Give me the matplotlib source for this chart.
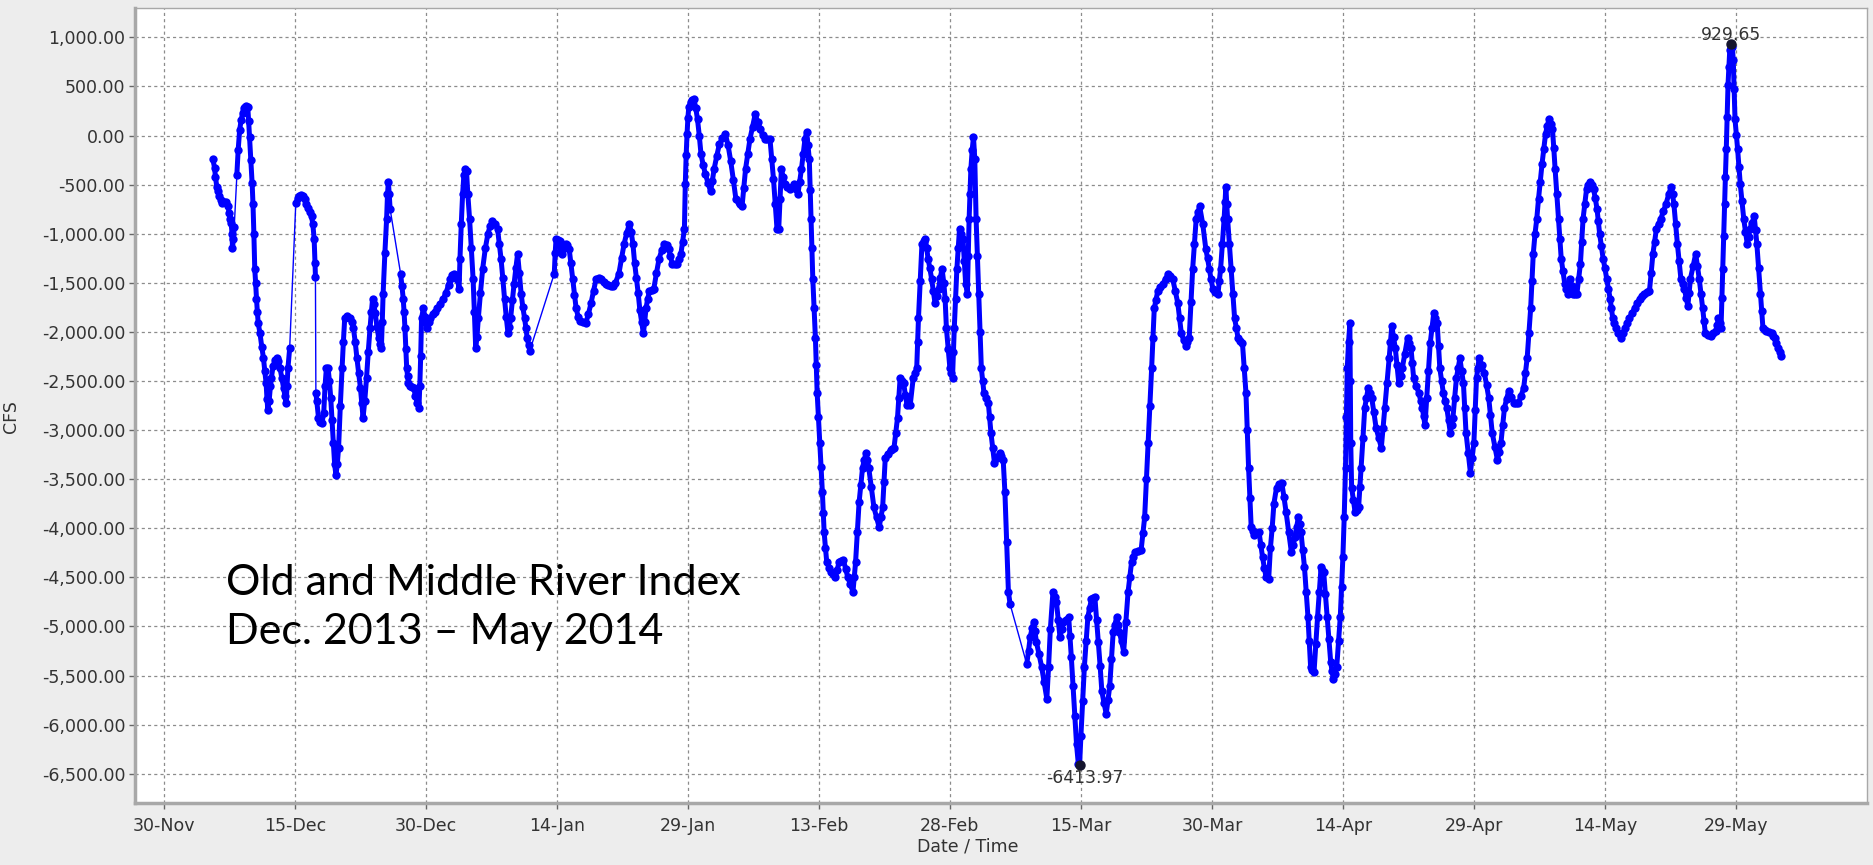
import numpy as np
import pandas as pd
import matplotlib
matplotlib.use("Agg")
import matplotlib.pyplot as plt
from matplotlib.dates import DateFormatter
from matplotlib.ticker import FuncFormatter

plt.rcParams["font.family"] = ["DejaVu Sans"]

start = pd.Timestamp("2013-11-30")

# Old and Middle River index, days after 30-Nov-2013 and flow in CFS.
# Each run is an unbroken stretch of the record; the record has gaps between runs.
run1_days = [5.6, 5.8, 5.9, 6.05, 6.2, 6.35, 6.5, 6.7, 6.9, 7.15,
             7.3, 7.5, 7.6, 7.7, 7.8, 7.85, 7.95, 8.05]
run1_cfs = [-240, -330, -420, -520, -570, -620, -660, -690, -680, -673,
            -720, -790, -850, -893, -1000, -1150, -1050, -930]

run2_days = [8.35, 8.5, 8.67, 8.85, 9.0, 9.15, 9.3, 9.45, 9.6, 9.7,
             9.8, 9.95, 10.1, 10.2, 10.3, 10.4, 10.5, 10.6, 10.7, 10.8,
             11.0, 11.2, 11.4, 11.55, 11.7, 11.8, 11.9, 12.05, 12.2, 12.3,
             12.5, 12.7, 12.9, 13.1, 13.3, 13.5, 13.7, 13.85, 14.0, 14.1,
             14.2, 14.4]
run2_cfs = [-400, -150, 57, 160, 227, 280, 295, 300, 290, 150,
            -11, -250, -486, -700, -1000, -1356, -1500, -1660, -1800, -1913,
            -2014, -2150, -2267, -2400, -2520, -2680, -2800, -2700, -2550, -2470,
            -2350, -2290, -2267, -2300, -2370, -2470, -2570, -2650, -2720, -2550,
            -2370, -2166]

run3_days = [15.1, 15.3, 15.5, 15.7, 15.9, 16.1, 16.3, 16.5, 16.7, 16.9,
             17.05, 17.2, 17.3, 17.35]
run3_cfs = [-690, -640, -615, -605, -620, -650, -700, -740, -780, -824,
            -900, -1052, -1300, -1437]

run4_days = [17.4, 17.5, 17.7, 17.9, 18.1, 18.3, 18.45, 18.6, 18.8, 18.95,
             19.1, 19.25, 19.4, 19.55, 19.7, 19.85, 20.0, 20.2, 20.4, 20.55,
             20.7, 21.0, 21.3, 21.5, 21.7, 21.9, 22.1, 22.3, 22.5, 22.65,
             22.8, 23.0, 23.2, 23.4, 23.6, 23.75, 23.9, 24.05, 24.2, 24.4,
             24.6, 24.75, 24.9, 25.0, 25.1, 25.3, 25.5, 25.6, 25.7, 25.8,
             25.9]
run4_cfs = [-2620, -2700, -2875, -2920, -2926, -2825, -2550, -2370, -2370, -2500,
            -2670, -2900, -3130, -3350, -3460, -3350, -3180, -2750, -2370, -2100,
            -1862, -1840, -1862, -1900, -1963, -2100, -2267, -2420, -2570, -2720,
            -2875, -2700, -2470, -2200, -1963, -1800, -1660, -1720, -1812, -1950,
            -2065, -2120, -2166, -1900, -1609, -1200, -849, -600, -469, -600,
            -748]

run5_days = [27.1, 27.25, 27.4, 27.5, 27.6, 27.7, 27.8, 27.9, 28.0, 28.2,
             28.4, 28.6, 28.8, 29.0, 29.2, 29.3, 29.4, 29.5, 29.7, 29.9,
             30.1, 30.3, 30.5, 30.8, 31.0, 31.3, 31.6, 32.0, 32.3, 32.6,
             32.8, 33.0, 33.2, 33.4, 33.6, 33.8, 33.9, 34.05, 34.2, 34.35,
             34.5, 34.65, 34.8, 35.0, 35.2, 35.4, 35.55, 35.7, 35.85, 36.0,
             36.25, 36.5, 36.8, 37.1, 37.35, 37.6, 37.9, 38.2, 38.4, 38.6,
             38.8, 39.0, 39.2, 39.4, 39.55, 39.7, 39.9, 40.1, 40.3, 40.5,
             40.7, 40.9, 41.1, 41.3, 41.45, 41.6, 41.75, 41.9]
run5_cfs = [-1406, -1530, -1660, -1800, -1963, -2170, -2370, -2450, -2520, -2550,
            -2560, -2570, -2650, -2723, -2774, -2550, -2250, -1862, -1761, -1850,
            -1963, -1900, -1862, -1820, -1800, -1761, -1720, -1660, -1600, -1520,
            -1457, -1420, -1406, -1430, -1457, -1558, -1254, -900, -600, -400,
            -340, -360, -600, -849, -1150, -1457, -1800, -2166, -2050, -1862,
            -1600, -1356, -1150, -1000, -920, -875, -900, -950, -1100, -1254,
            -1450, -1660, -1850, -2014, -1950, -1862, -1680, -1508, -1350, -1204,
            -1400, -1609, -1750, -1862, -1960, -2065, -2130, -2190]

run6_days = [44.7, 44.8, 44.9, 45.1, 45.3, 45.45, 45.6, 45.8, 46.0, 46.2,
             46.4, 46.6, 46.8, 47.0, 47.2, 47.45, 47.7, 48.0, 48.3, 48.6,
             48.9, 49.2, 49.5, 49.8, 50.1, 50.4, 50.6, 50.9, 51.2, 51.4,
             51.7, 52.1, 52.4, 52.7, 53.0, 53.3, 53.5, 53.7, 53.9, 54.1,
             54.3, 54.5, 54.7, 54.9, 55.05, 55.2, 55.4, 55.6, 55.85, 56.1,
             56.4, 56.7, 57.0, 57.3, 57.55, 57.8, 58.0, 58.2, 58.5, 58.8,
             59.0, 59.2, 59.4, 59.6, 59.7, 59.8, 59.9, 60.0, 60.1, 60.3,
             60.5, 60.7, 60.9, 61.1, 61.3, 61.5, 61.75, 62.0, 62.3, 62.6,
             62.8, 63.0, 63.3, 63.6, 63.95, 64.3, 64.6, 64.9, 65.2, 65.5,
             65.8, 66.0, 66.2, 66.4, 66.6, 66.85, 67.1, 67.4, 67.7, 68.0,
             68.3, 68.55, 68.8, 69.1, 69.4, 69.6, 69.8, 70.0, 70.2, 70.4,
             70.55, 70.7, 70.9, 71.1, 71.4, 71.7, 71.95, 72.2, 72.4, 72.6,
             72.8, 73.0, 73.2, 73.4, 73.6, 73.75, 73.9, 74.0, 74.1, 74.2,
             74.3, 74.45, 74.6, 74.7, 74.8, 74.95, 75.1, 75.25, 75.4, 75.5,
             75.6, 75.75, 75.9, 76.15, 76.4, 76.65, 76.9, 77.1, 77.3, 77.55,
             77.8, 78.05, 78.3, 78.6, 78.9, 79.05, 79.2, 79.4, 79.6, 79.8,
             80.0, 80.2, 80.4, 80.55, 80.7, 81.0, 81.3, 81.6, 81.9, 82.1,
             82.3, 82.45, 82.6, 82.9, 83.2, 83.4, 83.6, 83.8, 84.0, 84.15,
             84.3, 84.5, 84.7, 84.9, 85.1, 85.45, 85.8, 86.0, 86.2, 86.3,
             86.4, 86.6, 86.8, 87.0, 87.2, 87.35, 87.5, 87.7, 87.9, 88.1,
             88.3, 88.5, 88.7, 88.9, 89.1, 89.3, 89.45, 89.6, 89.8, 90.0,
             90.15, 90.3, 90.4, 90.5, 90.65, 90.8, 90.95, 91.1, 91.3, 91.5,
             91.65, 91.8, 92.0, 92.1, 92.2, 92.3, 92.4, 92.55, 92.7, 92.85,
             93.0, 93.15, 93.3, 93.45, 93.6, 93.75, 93.9, 94.15, 94.4, 94.55,
             94.7, 94.9, 95.1, 95.4, 95.7, 95.9, 96.1, 96.3, 96.5, 96.7,
             96.9]
run6_cfs = [-1406, -1200, -1052, -1060, -1077, -1150, -1204, -1150, -1102, -1120,
            -1153, -1300, -1457, -1620, -1761, -1850, -1888, -1900, -1913, -1820,
            -1710, -1580, -1457, -1450, -1457, -1490, -1508, -1520, -1530, -1533,
            -1500, -1406, -1250, -1102, -990, -900, -980, -1100, -1300, -1450,
            -1600, -1780, -1900, -2014, -1900, -1761, -1660, -1584, -1570, -1558,
            -1400, -1254, -1170, -1102, -1120, -1153, -1230, -1305, -1305, -1305,
            -1260, -1204, -1080, -950, -494, -200, 12, 180, 291, 340,
            360, 367, 280, 164, 0, -190, -300, -393, -480, -570,
            -460, -342, -210, -89, -30, 12, -100, -260, -450, -650,
            -680, -700, -722, -530, -342, -190, -38, 90, 215, 140,
            63, 10, -38, -38, -38, -240, -444, -700, -950, -950,
            -650, -342, -420, -494, -520, -545, -520, -494, -540, -595,
            -470, -342, -190, -38, 37, -100, -241, -550, -849, -1150,
            -1457, -1760, -2065, -2340, -2622, -2870, -3129, -3380, -3635, -3840,
            -4040, -4200, -4345, -4400, -4447, -4470, -4497, -4420, -4345, -4330,
            -4320, -4410, -4497, -4570, -4649, -4500, -4345, -4040, -3737, -3560,
            -3382, -3300, -3230, -3300, -3382, -3580, -3787, -3890, -3990, -3890,
            -3787, -3530, -3281, -3240, -3205, -3190, -3180, -3030, -2875, -2670,
            -2470, -2500, -2520, -2640, -2749, -2749, -2470, -2420, -2370, -2100,
            -1862, -1480, -1102, -1070, -1052, -1150, -1254, -1350, -1457, -1580,
            -1710, -1630, -1558, -1450, -1356, -1500, -1660, -1963, -2170, -2370,
            -2420, -2470, -2200, -1963, -1660, -1356, -1150, -950, -1000, -1052,
            -1280, -1508, -1609, -1230, -849, -600, -342, -150, -13, -241,
            -849, -1230, -1609, -2000, -2370, -2500, -2622, -2670, -2723, -2870,
            -3028, -3180, -3332, -3280, -3230, -3260, -3300, -3635, -4142, -4649,
            -4775]

run7_days = [98.8, 99.0, 99.2, 99.4, 99.6, 99.75, 99.9, 100.2, 100.5, 100.8,
             101.1, 101.3, 101.5, 101.8, 102.0, 102.2, 102.4, 102.6, 102.8, 103.0,
             103.3, 103.6, 103.75, 103.9, 104.1, 104.3, 104.5, 104.7, 104.85, 105.0,
             105.2, 105.4, 105.6, 105.8, 106.0, 106.2, 106.4, 106.6, 106.8, 107.0,
             107.2, 107.4, 107.65, 107.9, 108.1, 108.3, 108.5, 108.7, 108.9, 109.1,
             109.25, 109.4, 109.65, 109.9, 110.15, 110.4, 110.6, 110.8, 111.0, 111.2,
             111.55, 111.9, 112.1, 112.3, 112.5, 112.7, 112.9, 113.1, 113.25, 113.4,
             113.6, 113.8, 114.1, 114.4, 114.7, 115.0, 115.25, 115.5, 115.8, 116.1,
             116.3, 116.5, 116.75, 117.0, 117.2, 117.4, 117.6, 117.8, 118.0, 118.2,
             118.4, 118.6, 118.95, 119.3, 119.5, 119.7, 119.9, 120.1, 120.4, 120.7,
             120.85, 121.0, 121.2, 121.4, 121.5, 121.6, 121.7, 121.8, 122.0, 122.2,
             122.4, 122.6, 122.8, 123.0, 123.25, 123.5, 123.7, 123.9, 124.05, 124.2,
             124.35, 124.5, 124.65, 124.8, 125.1, 125.4, 125.6, 125.8, 126.0, 126.2,
             126.5, 126.7, 126.9, 127.1, 127.4, 127.7, 128.0, 128.25, 128.5, 128.8,
             129.1, 129.3, 129.5, 129.7, 129.9, 130.05, 130.2, 130.4, 130.6, 130.8,
             131.0, 131.15, 131.3, 131.5, 131.7, 131.9, 132.1, 132.3, 132.5, 132.65,
             132.8, 133.0, 133.2, 133.4, 133.6, 133.75, 133.9, 134.1, 134.3, 134.5,
             134.7, 134.85, 135.0, 135.15, 135.3, 135.4, 135.5, 135.65, 135.8, 135.85,
             135.9, 136.0, 136.2, 136.4, 136.6, 136.8, 136.95, 137.1, 137.3, 137.5,
             137.7, 137.9, 138.1, 138.3, 138.55, 138.8, 139.1, 139.4, 139.6, 139.8,
             140.05, 140.3, 140.45, 140.6, 140.8, 141.0, 141.2, 141.4, 141.6, 141.8,
             142.1, 142.4, 142.6, 142.8, 142.95, 143.1, 143.4, 143.7, 143.9, 144.1,
             144.25, 144.4, 144.6, 144.8, 145.0, 145.2, 145.4, 145.6, 145.8, 145.95,
             146.1, 146.3, 146.5, 146.7, 146.9, 147.1, 147.3, 147.45, 147.6, 147.8,
             148.0, 148.2, 148.4, 148.6, 148.8, 148.95, 149.1, 149.35, 149.6, 149.8,
             150.0, 150.15, 150.3, 150.45, 150.6, 150.9, 151.2, 151.45, 151.7, 151.9,
             152.1, 152.4, 152.7, 152.9, 153.1, 153.3, 153.5, 153.75, 154.0, 154.3,
             154.6, 154.85, 155.1, 155.4, 155.7, 155.9, 156.1, 156.3, 156.5, 156.65,
             156.8, 157.0, 157.2, 157.4, 157.6, 157.8, 158.0, 158.2, 158.4, 158.6,
             158.8, 159.0, 159.15, 159.3, 159.5, 159.7, 159.85, 160.0, 160.2, 160.4,
             160.6, 160.8, 161.0, 161.2, 161.4, 161.6, 161.8, 162.0, 162.2, 162.35,
             162.5, 162.7, 162.9, 163.1, 163.3, 163.5, 163.7, 163.9, 164.1, 164.25,
             164.4, 164.6, 164.8, 165.0, 165.2, 165.4, 165.6, 165.75, 165.9, 166.1,
             166.3, 166.55, 166.8, 167.05, 167.3, 167.55, 167.8, 168.1, 168.4, 168.7,
             169.0, 169.25, 169.5, 169.8, 170.1, 170.3, 170.5, 170.7, 170.9, 171.15,
             171.4, 171.7, 172.0, 172.3, 172.6, 172.75, 172.9, 173.1, 173.3, 173.5,
             173.7, 173.9, 174.1, 174.3, 174.5, 174.65, 174.8, 175.1, 175.4, 175.6,
             175.8, 176.0, 176.2, 176.35, 176.5, 176.8, 177.1, 177.4, 177.7, 177.85,
             178.0, 178.15, 178.3, 178.4, 178.5, 178.6, 178.7, 178.8, 178.9, 179.0,
             179.1, 179.2, 179.3, 179.45, 179.6, 179.7, 179.8, 179.9, 180.05, 180.2,
             180.35, 180.5, 180.7, 180.9, 181.1, 181.3, 181.45, 181.6, 181.85, 182.1,
             182.25, 182.4, 182.6, 182.8, 182.95, 183.1, 183.3, 183.5, 183.8, 184.1,
             184.3, 184.5, 184.65, 184.8, 185.0, 185.2]
run7_cfs = [-5383, -5250, -5105, -5020, -4953, -5050, -5155, -5280, -5408, -5570,
            -5737, -5408, -5030, -4649, -4700, -4750, -4930, -5105, -5030, -4953,
            -4930, -4902, -5100, -5307, -5610, -5915, -6200, -6396, -6413.97, -6118,
            -5760, -5408, -5150, -4902, -4810, -4725, -4710, -4700, -4930, -5155,
            -5400, -5661, -5780, -5889, -5750, -5611, -5330, -5054, -4980, -4902,
            -4980, -5054, -5150, -5256, -4950, -4649, -4500, -4345, -4290, -4243,
            -4230, -4218, -4050, -3888, -3500, -3129, -2750, -2370, -2060, -1761,
            -1670, -1584, -1545, -1508, -1460, -1406, -1430, -1457, -1580, -1710,
            -1860, -2014, -2080, -2141, -2100, -2065, -1700, -1356, -1100, -849,
            -780, -722, -900, -1153, -1250, -1356, -1460, -1558, -1590, -1609,
            -1480, -1356, -1100, -849, -680, -520, -700, -849, -1100, -1356,
            -1610, -1862, -1960, -2065, -2090, -2115, -2370, -2622, -3000, -3382,
            -3690, -3990, -4030, -4066, -4050, -4040, -4170, -4294, -4400, -4497,
            -4520, -4200, -4000, -3750, -3585, -3550, -3534, -3680, -3838, -4040,
            -4243, -4170, -4091, -3990, -3888, -3960, -4040, -4220, -4395, -4650,
            -4902, -5150, -5408, -5440, -5459, -5180, -4902, -4650, -4395, -4420,
            -4446, -4670, -4902, -5130, -5357, -5450, -5535, -5480, -5408, -5150,
            -4902, -4600, -4294, -3888, -3382, -2870, -2370, -2100, -1913, -2500,
            -3129, -3585, -3710, -3838, -3810, -3787, -3580, -3382, -3080, -2774,
            -2670, -2571, -2620, -2672, -2820, -2977, -3080, -3180, -2980, -2774,
            -2520, -2267, -2100, -1938, -2050, -2166, -2340, -2521, -2450, -2370,
            -2220, -2065, -2110, -2166, -2320, -2470, -2550, -2622, -2700, -2774,
            -2860, -2951, -2670, -2400, -2115, -1960, -1812, -1860, -1913, -2140,
            -2370, -2500, -2622, -2700, -2774, -2900, -3028, -2950, -2875, -2670,
            -2470, -2370, -2267, -2400, -2521, -2770, -3028, -3230, -3433, -3280,
            -3129, -2800, -2470, -2370, -2267, -2340, -2419, -2540, -2672, -2850,
            -3028, -3170, -3307, -3220, -3129, -2950, -2774, -2680, -2597, -2660,
            -2723, -2723, -2723, -2650, -2571, -2420, -2267, -2010, -1761, -1480,
            -1204, -1000, -849, -646, -470, -292, -140, 12, 100, 164,
            120, 63, -130, -342, -600, -849, -1050, -1254, -1380, -1508,
            -1560, -1609, -1457, -1530, -1609, -1609, -1609, -1460, -1305, -1080,
            -849, -700, -545, -500, -469, -500, -545, -640, -748, -870,
            -1001, -1130, -1254, -1350, -1457, -1560, -1660, -1760, -1862, -1910,
            -1963, -2010, -2065, -2010, -1963, -1910, -1862, -1810, -1761, -1710,
            -1660, -1630, -1609, -1595, -1584, -1400, -1204, -1080, -950, -900,
            -849, -770, -697, -600, -520, -600, -697, -900, -1102, -1280,
            -1457, -1510, -1558, -1650, -1736, -1600, -1457, -1330, -1204, -1330,
            -1457, -1610, -1761, -1890, -2014, -2027, -2040, -2015, -1989, -1930,
            -1862, -1910, -1963, -1650, -1356, -1020, -697, -420, -140, 190,
            519, 700, 873, 929.65, 900, 772, 470, 164, 10, -140,
            -320, -494, -670, -849, -980, -1102, -1030, -950, -890, -823,
            -960, -1102, -1350, -1609, -1790, -1963, -1976, -1989, -2000, -2014,
            -2040, -2065, -2115, -2166, -2204, -2242]

runs = [(run1_days, run1_cfs), (run2_days, run2_cfs), (run3_days, run3_cfs),
        (run4_days, run4_cfs), (run5_days, run5_cfs), (run6_days, run6_cfs),
        (run7_days, run7_cfs)]

tick_days = list(range(0, 181, 15))
y_ticks = list(range(-6500, 1001, 500))

line_blue = "#0000ff"
text_grey = "#333333"


def to_dates(days):
    return start + pd.to_timedelta(np.asarray(days, dtype=float), unit="D")


fig = plt.figure(figsize=(18.74, 8.65), dpi=100, facecolor="#ededed")
ax = fig.add_axes([0.0720, 0.0714, 0.9242, 0.9195])
ax.set_facecolor("white")

all_days = np.concatenate([np.asarray(d, dtype=float) for d, _ in runs])
all_cfs = np.concatenate([np.asarray(v, dtype=float) for _, v in runs])

# thin line carries the series across the gaps in the record
ax.plot(to_dates(all_days), all_cfs, color=line_blue, lw=1.0, zorder=3)
for d, v in runs:
    ax.plot(to_dates(d), v, color=line_blue, lw=3.6, marker="o", ms=6,
            mew=0, solid_capstyle="round", zorder=4)

# mark and label the highest and lowest readings
i_max = int(np.argmax(all_cfs))
i_min = int(np.argmin(all_cfs))
for i, offset in [(i_max, (0, 7)), (i_min, (4, -9))]:
    x = to_dates([all_days[i]])[0]
    ax.plot(x, all_cfs[i], "o", color="#15152e", ms=6.5, zorder=5)
    ax.annotate(f"{all_cfs[i]:.2f}", (x, all_cfs[i]), xytext=offset,
                textcoords="offset points", ha="center", va="center",
                fontsize=12.3, color=text_grey, zorder=6)

ax.set_xlim(to_dates([-3.32])[0], to_dates([195.0])[0])
ax.set_ylim(-6800, 1300)
ax.set_xticks(to_dates(tick_days))
ax.xaxis.set_major_formatter(DateFormatter("%d-%b"))
ax.set_yticks(y_ticks)
ax.yaxis.set_major_formatter(FuncFormatter(lambda v, p: f"{v:,.2f}"))

ax.grid(True, color="#8c8c8c", linestyle=(0, (2.5, 2.5)), linewidth=0.9)
ax.set_axisbelow(True)

for side in ["top", "right"]:
    ax.spines[side].set_color("#a8a8a8")
    ax.spines[side].set_linewidth(1.0)
for side in ["left", "bottom"]:
    ax.spines[side].set_color("#a8a8a8")
    ax.spines[side].set_linewidth(2.5)

ax.tick_params(axis="both", colors="#666666", labelcolor=text_grey,
               labelsize=12.5, length=4, width=1, direction="out")
ax.tick_params(axis="x", pad=6)
ax.tick_params(axis="y", pad=3)

ax.set_ylabel("CFS", fontsize=12.5, color=text_grey)
ax.yaxis.set_label_coords(-0.0664, 0.486)
ax.set_xlabel("Date / Time", fontsize=12.5, color=text_grey)
ax.xaxis.set_label_coords(0.481, -0.043)

ax.text(0.0525, 0.246, "Old and Middle River Index\nDec. 2013 \u2013 May 2014",
        transform=ax.transAxes, fontsize=31, family="Lato", color="black",
        ha="left", va="center", linespacing=1.35, zorder=7)

fig.savefig("out.png", dpi=100, facecolor=fig.get_facecolor())
